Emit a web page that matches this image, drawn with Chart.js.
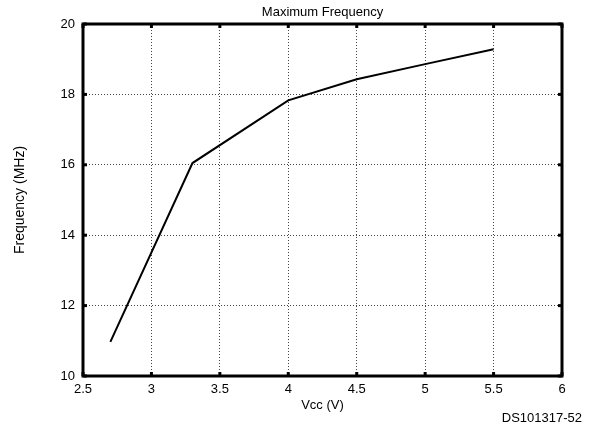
<!DOCTYPE html>
<html>
<head>
<meta charset="utf-8">
<script src="https://cdn.jsdelivr.net/npm/chart.js@4/dist/chart.umd.min.js"></script>
<style>
  html, body { margin: 0; padding: 0; background: #fff; }
  #wrap { width: 594px; height: 432px; }
</style>
</head>
<body>
<div id="wrap"><canvas id="freqChart" width="594" height="432"></canvas></div>
<script>
// supply voltage (V) and max frequency (MHz)
const vcc = [2.7, 3.3, 4.0, 4.5, 5.0, 5.5];
const freq = [10.97, 16.05, 17.83, 18.43, 18.86, 19.28];
const xTicks = [2.5, 3, 3.5, 4, 4.5, 5, 5.5, 6];
const yTicks = [10, 12, 14, 16, 18, 20];
const chartTitle = 'Maximum Frequency';
const figCode = 'DS101317-52';

const FONT = 'Liberation Sans, Arial, sans-serif';

// frame around the plot + small inner tick marks + title over the plot + figure code
const framePlugin = {
  id: 'frame',
  afterDraw(chart) {
    const { ctx, chartArea: a, scales } = chart;
    ctx.save();
    ctx.fillStyle = '#000';
    xTicks.forEach(v => {
      const px = scales.x.getPixelForValue(v);
      ctx.fillRect(px - 1.5, a.bottom - 4, 3, 4);
      ctx.fillRect(px - 1.5, a.top, 3, 4);
    });
    yTicks.forEach(v => {
      const py = scales.y.getPixelForValue(v);
      ctx.fillRect(a.left, py - 1.5, 4, 3);
      ctx.fillRect(a.right - 4, py - 1.5, 4, 3);
    });
    ctx.strokeStyle = '#000';
    ctx.lineWidth = 3;
    ctx.strokeRect(a.left, a.top, a.right - a.left, a.bottom - a.top);

    ctx.textBaseline = 'middle';
    ctx.font = '13px ' + FONT;
    ctx.textAlign = 'center';
    ctx.fillText(chartTitle, (a.left + a.right) / 2, 12);
    ctx.textAlign = 'right';
    ctx.fillText(figCode, 582, 418);
    ctx.restore();
  }
};

new Chart(document.getElementById('freqChart'), {
  type: 'line',
  data: {
    datasets: [{
      data: vcc.map((v, i) => ({ x: v, y: freq[i] })),
      borderColor: '#000',
      borderWidth: 2,
      pointRadius: 0,
      tension: 0,
      fill: false
    }]
  },
  options: {
    responsive: false,
    animation: false,
    devicePixelRatio: 1,
    layout: { padding: { left: 0, right: 32, top: 24, bottom: 0 } },
    plugins: {
      legend: { display: false },
      tooltip: { enabled: false },
      title: { display: false }
    },
    scales: {
      x: {
        type: 'linear',
        min: 2.5,
        max: 6,
        afterBuildTicks: s => { s.ticks = xTicks.map(v => ({ value: v })); },
        afterFit: s => { s.height = 56; },
        ticks: {
          color: '#000',
          font: { family: FONT, size: 13 },
          padding: 6,
          callback: v => String(v)
        },
        grid: { color: '#444', lineWidth: 1, drawTicks: false },
        border: { display: false, dash: [1, 2] },
        title: {
          display: true,
          text: 'Vcc (V)',
          color: '#000',
          font: { family: FONT, size: 13 },
          padding: { top: 0, bottom: 19 }
        }
      },
      y: {
        min: 10,
        max: 20,
        afterBuildTicks: s => { s.ticks = yTicks.map(v => ({ value: v })); },
        afterFit: s => { s.width = 83; },
        ticks: {
          color: '#000',
          font: { family: FONT, size: 13 },
          padding: 8
        },
        grid: { color: '#444', lineWidth: 1, drawTicks: false },
        border: { display: false, dash: [1, 2] },
        title: {
          display: true,
          text: 'Frequency (MHz)',
          color: '#000',
          font: { family: FONT, size: 14 },
          padding: { top: 12, bottom: 0 }
        }
      }
    }
  },
  plugins: [framePlugin]
});
</script>
</body>
</html>
